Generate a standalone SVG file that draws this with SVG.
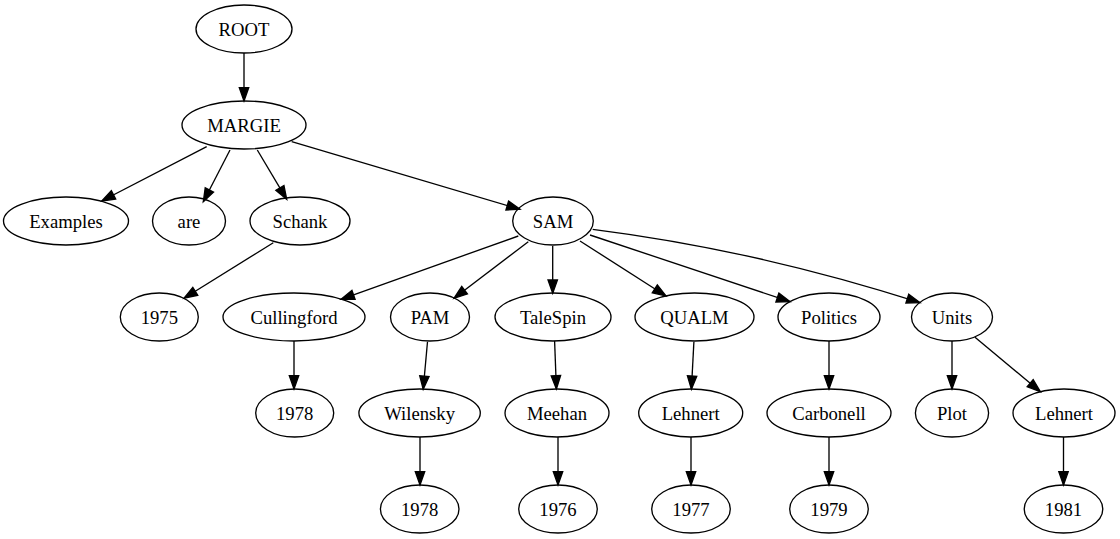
<svg xmlns="http://www.w3.org/2000/svg" width="1120" height="539" viewBox="0 0 1120 539">
<style>
.n ellipse{fill:none;stroke:#000;stroke-width:1.33}
.n text{font-family:"Liberation Serif","Times New Roman",serif;font-size:18.67px;text-anchor:middle;fill:#000}
.e path{fill:none;stroke:#000;stroke-width:1.33;marker-end:url(#ah)}
</style>
<defs>
<marker id="ah" markerUnits="userSpaceOnUse" markerWidth="14" markerHeight="10" refX="13.3" refY="4.7" orient="auto" overflow="visible">
<path d="M0,0 L13.3,4.7 L0,9.4 z" fill="#000" stroke="#000" stroke-width="1.33"/>
</marker>
</defs>
<rect width="1120" height="539" fill="#fff"/>
<g id="edges" class="e">
<path d="M244,53 L244,101"/>
<path d="M206.7,146.7 L101.7,201"/>
<path d="M230,150 L203.3,201.7"/>
<path d="M257.3,150 L286.7,199.3"/>
<path d="M291.7,141.7 L520,209.3"/>
<path d="M273.3,242.7 L184,298.3"/>
<path d="M518.3,236 L341,299.3"/>
<path d="M528.3,241.7 L454,298.3"/>
<path d="M552.7,246 L552.7,293.3"/>
<path d="M580,241 L666,296"/>
<path d="M590,235 L790,301.7"/>
<path d="M592.7,229.3 Q756,250 920,302.7"/>
<path d="M294,341 L294,389"/>
<path d="M427.5,341.7 L423.2,389.3"/>
<path d="M554.6,341 L556.4,389"/>
<path d="M693.9,341.7 L691.4,389.3"/>
<path d="M829,341 L829,389"/>
<path d="M952,341 L952,389"/>
<path d="M975,337.3 L1040.4,391.7"/>
<path d="M420,437 L420,485"/>
<path d="M558,437 L558,485"/>
<path d="M691,437 L691,485"/>
<path d="M829,437 L829,485"/>
<path d="M1063.5,437 L1063.5,485"/>
</g>
<g id="ROOT" class="n"><ellipse cx="244" cy="29" rx="48" ry="24"/><text x="244" y="35.5">ROOT</text></g>
<g id="MARGIE" class="n"><ellipse cx="244" cy="125" rx="62" ry="24"/><text x="244" y="131.5">MARGIE</text></g>
<g id="Examples" class="n"><ellipse cx="66" cy="221" rx="62.5" ry="24"/><text x="66" y="227.5">Examples</text></g>
<g id="are" class="n"><ellipse cx="189" cy="221" rx="36.5" ry="24"/><text x="189" y="227.5">are</text></g>
<g id="Schank" class="n"><ellipse cx="300" cy="221" rx="50" ry="24"/><text x="300" y="227.5">Schank</text></g>
<g id="SAM" class="n"><ellipse cx="553" cy="221" rx="40.3" ry="24"/><text x="553" y="227.5">SAM</text></g>
<g id="n1975" class="n"><ellipse cx="159.3" cy="317" rx="39" ry="24"/><text x="159.3" y="323.5">1975</text></g>
<g id="Cullingford" class="n"><ellipse cx="294" cy="317" rx="71" ry="24"/><text x="294" y="323.5">Cullingford</text></g>
<g id="PAM" class="n"><ellipse cx="430" cy="317" rx="39.5" ry="24"/><text x="430" y="323.5">PAM</text></g>
<g id="TaleSpin" class="n"><ellipse cx="553" cy="317" rx="58" ry="24"/><text x="553" y="323.5">TaleSpin</text></g>
<g id="QUALM" class="n"><ellipse cx="694.5" cy="317" rx="59.5" ry="24"/><text x="694.5" y="323.5">QUALM</text></g>
<g id="Politics" class="n"><ellipse cx="829" cy="317" rx="51" ry="24"/><text x="829" y="323.5">Politics</text></g>
<g id="Units" class="n"><ellipse cx="952" cy="317" rx="40.5" ry="24"/><text x="952" y="323.5">Units</text></g>
<g id="n1978a" class="n"><ellipse cx="294.7" cy="413" rx="39" ry="24"/><text x="294.7" y="419.5">1978</text></g>
<g id="Wilensky" class="n"><ellipse cx="419.6" cy="413" rx="60.7" ry="24"/><text x="419.6" y="419.5">Wilensky</text></g>
<g id="Meehan" class="n"><ellipse cx="557" cy="413" rx="52" ry="24"/><text x="557" y="419.5">Meehan</text></g>
<g id="Lehnert1" class="n"><ellipse cx="690.7" cy="413" rx="52" ry="24"/><text x="690.7" y="419.5">Lehnert</text></g>
<g id="Carbonell" class="n"><ellipse cx="829" cy="413" rx="62" ry="24"/><text x="829" y="419.5">Carbonell</text></g>
<g id="Plot" class="n"><ellipse cx="952" cy="413" rx="36.6" ry="24"/><text x="952" y="419.5">Plot</text></g>
<g id="Lehnert2" class="n"><ellipse cx="1064" cy="413" rx="51" ry="24"/><text x="1064" y="419.5">Lehnert</text></g>
<g id="n1978b" class="n"><ellipse cx="419.7" cy="509" rx="39.3" ry="24"/><text x="419.7" y="515.5">1978</text></g>
<g id="n1976" class="n"><ellipse cx="558" cy="509" rx="39.3" ry="24"/><text x="558" y="515.5">1976</text></g>
<g id="n1977" class="n"><ellipse cx="691" cy="509" rx="39.3" ry="24"/><text x="691" y="515.5">1977</text></g>
<g id="n1979" class="n"><ellipse cx="829" cy="509" rx="39.3" ry="24"/><text x="829" y="515.5">1979</text></g>
<g id="n1981" class="n"><ellipse cx="1063.5" cy="509" rx="39.3" ry="24"/><text x="1063.5" y="515.5">1981</text></g>
</svg>
